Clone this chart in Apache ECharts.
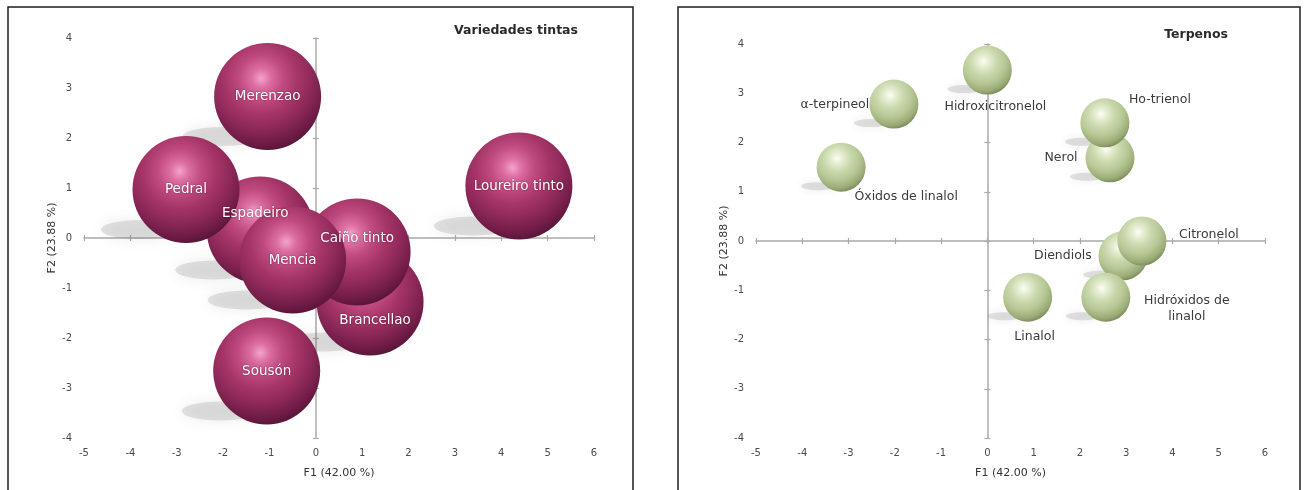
<!DOCTYPE html>
<html>
<head>
<meta charset="utf-8">
<script src="https://cdn.jsdelivr.net/npm/echarts@6/dist/echarts.min.js"></script>
<style>
  html, body { margin: 0; padding: 0; background: #fff; }
  #chart { width: 1310px; height: 490px; }
</style>
</head>
<body>
<div id="chart"></div>
<script>
// ---- Data: PCA scores (F1, F2) ----
const redNames = ['Loureiro tinto', 'Merenzao', 'Sousón', 'Espadeiro', 'Pedral', 'Brancellao', 'Caiño tinto', 'Mencia'];
const redF1 = [4.38, -1.04, -1.06, -1.20, -2.80, 1.17, 0.89, -0.50];
const redF2 = [1.04, 2.83, -2.66, 0.16, 0.97, -1.28, -0.28, -0.44];

const terpNames = ['Hidroxicitronelol', 'α-terpineol', 'Óxidos de linalol', 'Nerol', 'Ho-trienol', 'Diendiols', 'Citronelol', 'Hidróxidos de\nlinalol', 'Linalol'];
const terpF1 = [0.00, -2.02, -3.16, 2.65, 2.54, 2.93, 3.34, 2.56, 0.87];
const terpF2 = [3.47, 2.78, 1.50, 1.69, 2.40, -0.30, 0.00, -1.14, -1.14];

const xTicks = [-5, -4, -3, -2, -1, 0, 1, 2, 3, 4, 5, 6];
const yTicks = [-4, -3, -2, -1, 0, 1, 2, 3, 4];
const xAxisTitle = 'F1 (42.00 %)';
const yAxisTitle = 'F2 (23.88 %)';
const leftTitle = 'Variedades tintas';
const rightTitle = 'Terpenos';

// ---- Label placement (styling) ----
const redLabelOffset = {
  'Espadeiro': [-5, -17],
  'Caiño tinto': [0, -14],
  'Brancellao': [5, 18]
};
const terpLabelOffset = {
  'Hidroxicitronelol': [8, 37],
  'α-terpineol': [-59, 1],
  'Óxidos de linalol': [65, 30],
  'Ho-trienol': [55, -23],
  'Nerol': [-49, 0],
  'Citronelol': [67, -6],
  'Diendiols': [-60, 0],
  'Hidróxidos de\nlinalol': [81, 12],
  'Linalol': [7, 40]
};

const FONT = 'DejaVu Sans';
const AXIS_GREY = '#a9a9a9';

function pairs(xs, ys) { return xs.map((x, i) => [x, ys[i]]); }

// Three x axes and three y axes per grid:
// 0 = labels at the frame edge, 1 = line through zero with outer ticks, 2 = inner ticks
function axesFor(gridIndex) {
  const xMin = xTicks[0], xMax = xTicks[xTicks.length - 1];
  const yMin = yTicks[0], yMax = yTicks[yTicks.length - 1];
  const common = { type: 'value', gridIndex, interval: 1, splitLine: { show: false } };
  const xs = [
    Object.assign({}, common, {
      min: xMin, max: xMax, position: 'bottom',
      axisLine: { show: false, onZero: false }, axisTick: { show: false },
      axisLabel: { color: '#4a4a4a', fontFamily: FONT, fontSize: 10, margin: 10 },
      name: xAxisTitle, nameLocation: 'middle', nameGap: 30,
      nameTextStyle: { color: '#333', fontFamily: FONT, fontSize: 11 }
    }),
    Object.assign({}, common, {
      min: xMin, max: xMax,
      axisLine: { show: true, onZero: true, lineStyle: { color: AXIS_GREY, width: 1.5 } },
      axisTick: { show: true, length: 3, lineStyle: { color: AXIS_GREY, width: 1.2 } },
      axisLabel: { show: false }
    }),
    Object.assign({}, common, {
      min: xMin, max: xMax,
      axisLine: { show: false, onZero: true },
      axisTick: { show: true, inside: true, length: 3, lineStyle: { color: AXIS_GREY, width: 1.2 } },
      axisLabel: { show: false }
    })
  ];
  const ys = [
    Object.assign({}, common, {
      min: yMin, max: yMax, position: 'left',
      axisLine: { show: false, onZero: false }, axisTick: { show: false },
      axisLabel: { color: '#4a4a4a', fontFamily: FONT, fontSize: 10, margin: 12 },
      name: yAxisTitle, nameLocation: 'middle', nameGap: 26, nameRotate: 90,
      nameTextStyle: { color: '#333', fontFamily: FONT, fontSize: 11 }
    }),
    Object.assign({}, common, {
      min: yMin, max: yMax,
      axisLine: { show: true, onZero: true, lineStyle: { color: AXIS_GREY, width: 1.5 } },
      axisTick: { show: true, length: 3, lineStyle: { color: AXIS_GREY, width: 1.2 } },
      axisLabel: { show: false }
    }),
    Object.assign({}, common, {
      min: yMin, max: yMax,
      axisLine: { show: false, onZero: true },
      axisTick: { show: true, inside: true, length: 3, lineStyle: { color: AXIS_GREY, width: 1.2 } },
      axisLabel: { show: false }
    })
  ];
  return { xs, ys };
}

const leftAxes = axesFor(0);
const rightAxes = axesFor(1);

// Sphere shading: light from the upper left, darkening toward the lower right rim
const purpleSphere = new echarts.graphic.RadialGradient(0.44, 0.33, 0.75, [
  { offset: 0, color: '#f3a4cb' },
  { offset: 0.12, color: '#dc6ea2' },
  { offset: 0.28, color: '#bf4a7f' },
  { offset: 0.46, color: '#a53567' },
  { offset: 0.63, color: '#8e2959' },
  { offset: 0.82, color: '#6d1b44' },
  { offset: 1, color: '#410f29' }
]);
const greenSphere = new echarts.graphic.RadialGradient(0.42, 0.32, 0.75, [
  { offset: 0, color: '#fcfef6' },
  { offset: 0.14, color: '#e7efd4' },
  { offset: 0.36, color: '#cbd9ae' },
  { offset: 0.6, color: '#b6c795' },
  { offset: 0.82, color: '#98aa74' },
  { offset: 1, color: '#66734a' }
]);

function floorShadow(xs, ys, gridIdx, size, offset, blur) {
  return {
    type: 'scatter', xAxisIndex: gridIdx * 3, yAxisIndex: gridIdx * 3,
    silent: true, z: 1,
    symbol: 'circle', symbolSize: size, symbolOffset: offset,
    itemStyle: { color: 'rgba(120,120,120,0.2)', opacity: 1, shadowBlur: blur, shadowColor: 'rgba(80,80,80,0.55)' },
    data: pairs(xs, ys)
  };
}

const redData = redNames.map((n, i) => {
  const item = { name: n, value: [redF1[i], redF2[i]] };
  if (redLabelOffset[n]) item.label = { offset: redLabelOffset[n] };
  return item;
});
const terpData = terpNames.map((n, i) => ({
  name: n, value: [terpF1[i], terpF2[i]],
  label: { offset: terpLabelOffset[n] || [0, 0] }
}));

const option = {
  backgroundColor: '#ffffff',
  animation: false,
  title: [
    { text: leftTitle, right: 727, top: 19,
      textStyle: { fontFamily: FONT, fontSize: 12.5, fontWeight: 'bold', color: '#2a2a2a' } },
    { text: rightTitle, right: 77, top: 23,
      textStyle: { fontFamily: FONT, fontSize: 12.5, fontWeight: 'bold', color: '#2a2a2a' } }
  ],
  graphic: [
    { type: 'rect', shape: { x: 8, y: 7, width: 625, height: 500 }, silent: true,
      style: { fill: 'none', stroke: '#1e1e1e', lineWidth: 1.5 } },
    { type: 'rect', shape: { x: 678, y: 7, width: 622, height: 500 }, silent: true,
      style: { fill: 'none', stroke: '#1e1e1e', lineWidth: 1.5 } }
  ],
  grid: [
    { left: 84, top: 38, width: 510, height: 400 },
    { left: 756, top: 44, width: 509, height: 394 }
  ],
  xAxis: leftAxes.xs.concat(rightAxes.xs),
  yAxis: leftAxes.ys.concat(rightAxes.ys),
  series: [
    floorShadow(redF1, redF2, 0, [78, 19], [-46, 40], 14),
    {
      type: 'scatter', xAxisIndex: 0, yAxisIndex: 0, z: 3,
      symbol: 'circle', symbolSize: 107,
      itemStyle: { color: purpleSphere, opacity: 1 },
      label: {
        show: true, position: 'inside', formatter: '{b}',
        color: '#ffffff', fontFamily: FONT, fontSize: 13.5,
        textShadowColor: 'rgba(60,0,25,0.6)', textShadowBlur: 2
      },
      emphasis: { disabled: true },
      data: redData
    },
    floorShadow(terpF1, terpF2, 1, [34, 8], [-23, 19], 8),
    {
      type: 'scatter', xAxisIndex: 3, yAxisIndex: 3, z: 3,
      symbol: 'circle', symbolSize: 49,
      itemStyle: { color: greenSphere, opacity: 1 },
      label: {
        show: true, position: 'inside', formatter: '{b}', align: 'center',
        color: '#3a3a3a', fontFamily: FONT, fontSize: 12.5, lineHeight: 16
      },
      emphasis: { disabled: true },
      data: terpData
    }
  ]
};

const chart = echarts.init(document.getElementById('chart'), null, { renderer: 'canvas' });
chart.setOption(option);
</script>
</body>
</html>
